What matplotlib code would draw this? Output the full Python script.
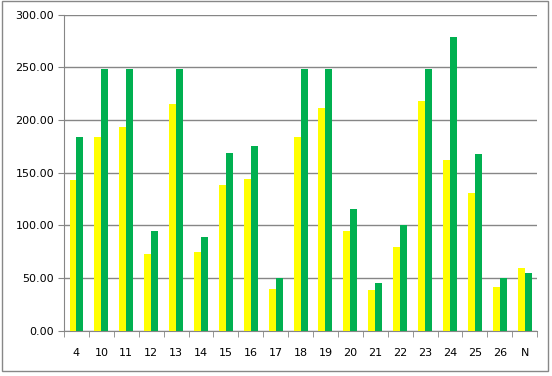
import matplotlib.pyplot as plt
from matplotlib.patches import Rectangle
import numpy as np

categories = ['4', '10', '11', '12', '13', '14', '15', '16', '17', '18',
              '19', '20', '21', '22', '23', '24', '25', '26', 'N']
yellow_vals = [143, 184, 193, 73, 215, 75, 138, 144, 40, 184,
               211, 95, 39, 80, 218, 162, 131, 42, 60]
green_vals = [184, 248, 248, 95, 248, 89, 169, 175, 50, 248,
              248, 116, 45, 100, 248, 279, 168, 50, 55]

fig = plt.figure(figsize=(5.52, 3.76), dpi=100)
ax = fig.add_axes([0.116, 0.12, 0.857, 0.841])

x = np.arange(len(categories))
w = 0.28
ax.bar(x - w / 2, yellow_vals, w, color='#FFFF00', zorder=3)
ax.bar(x + w / 2, green_vals, w, color='#00B050', zorder=3)

ax.set_xlim(-0.5, len(categories) - 0.5)
ax.set_ylim(0, 300)
ax.set_yticks(np.arange(0, 301, 50))
ax.set_yticklabels([f'{v:.2f}' for v in np.arange(0, 301, 50)])
ax.set_xticks(x)
ax.set_xticklabels(categories)
ax.set_xticks(np.arange(-0.5, len(categories)), minor=True)

ax.grid(axis='y', color='#868686', linewidth=1, zorder=0)
for s in ['top', 'right']:
    ax.spines[s].set_visible(False)
for s in ['left', 'bottom']:
    ax.spines[s].set_color('#868686')

ax.tick_params(axis='y', length=4, color='#868686', labelsize=8, pad=3)
ax.tick_params(axis='x', which='major', length=0, labelsize=8, pad=12)
ax.tick_params(axis='x', which='minor', length=4, color='#868686')

# chart area border
fig.patches.append(Rectangle((0.003, 0.013), 0.989, 0.984, transform=fig.transFigure,
                             fill=False, edgecolor='#878787', linewidth=1))

fig.savefig('out.png', dpi=100)
